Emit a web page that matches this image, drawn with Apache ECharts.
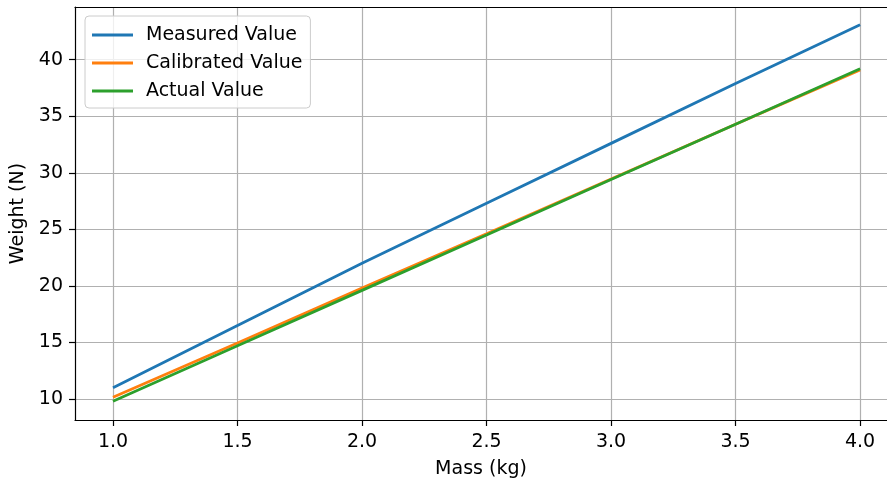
<!DOCTYPE html>
<html>
<head>
<meta charset="utf-8">
<script src="https://cdn.jsdelivr.net/npm/echarts@6/dist/echarts.min.js"></script>
<style>html,body{margin:0;padding:0;background:#fff;}#c{width:887px;height:484px;}</style>
</head>
<body>
<div id="c"></div>
<script>
var masses = [1.0, 1.5, 2.0, 2.5, 3.0, 3.5, 4.0];
var measured = [11.0, 16.5, 22.0, 27.3, 32.6, 37.9, 43.1];
var calibrated = [10.15, 14.95, 19.8, 24.6, 29.45, 34.3, 39.1];
var actual = [9.8, 14.7, 19.6, 24.5, 29.4, 34.3, 39.2];
var xTicks = [1.0, 1.5, 2.0, 2.5, 3.0, 3.5, 4.0];
var yTicks = [10, 15, 20, 25, 30, 35, 40];

function pairs(ys) { return masses.map(function (m, i) { return [m, ys[i]]; }); }
var font = 'DejaVu Sans';
var fs = 19;
var chart = echarts.init(document.getElementById('c'), null, {renderer: 'canvas'});
chart.setOption({
  animation: false,
  backgroundColor: '#fff',
  grid: {left: 75, top: 7, bottom: 62, right: 0, show: false},
  legend: {
    orient: 'vertical', left: 85, top: 16,
    padding: [8, 8, 6, 7],
    icon: 'rect',
    itemWidth: 41, itemHeight: 2.8, itemGap: 6,
    backgroundColor: 'rgba(255,255,255,0.8)', borderColor: '#cccccc', borderWidth: 1, borderRadius: 4,
    textStyle: {fontFamily: font, fontSize: fs, color: '#000', lineHeight: 22, padding: [0, 0, 0, 8]},
    data: ['Measured Value', 'Calibrated Value', 'Actual Value']
  },
  xAxis: [{
    type: 'value', min: 0.8474, max: 4.108,
    name: 'Mass (kg)', nameLocation: 'middle', nameGap: 40,
    nameTextStyle: {fontFamily: font, fontSize: fs, color: '#000'},
    axisLine: {show: true, onZero: false, lineStyle: {color: '#000', width: 1.2}},
    axisTick: {show: true, length: 6, inside: false, lineStyle: {color: '#000', width: 1.2}, customValues: xTicks},
    axisLabel: {fontFamily: font, fontSize: fs, color: '#000', margin: 13, customValues: xTicks, formatter: function (v) { return v.toFixed(1); }},
    splitLine: {show: true, lineStyle: {color: '#b0b0b0', width: 1.2}}
  }, {
    type: 'value', position: 'top', min: 0.8474, max: 4.108,
    axisLine: {show: true, onZero: false, lineStyle: {color: '#000', width: 1.2}},
    axisTick: {show: false}, axisLabel: {show: false}, splitLine: {show: false}
  }],
  yAxis: {
    type: 'value', min: 8.14, max: 44.66,
    name: 'Weight (N)', nameLocation: 'middle', nameGap: 46,
    nameTextStyle: {fontFamily: font, fontSize: fs, color: '#000'},
    axisLine: {show: true, onZero: false, lineStyle: {color: '#000', width: 1.2}},
    axisTick: {show: true, length: 6, inside: false, lineStyle: {color: '#000', width: 1.2}, customValues: yTicks},
    axisLabel: {fontFamily: font, fontSize: fs, color: '#000', margin: 12, customValues: yTicks},
    splitLine: {show: true, lineStyle: {color: '#b0b0b0', width: 1.2}}
  },
  series: [
    {name: 'Measured Value', type: 'line', data: pairs(measured), symbol: 'none', lineStyle: {color: '#1f77b4', width: 2.8}, itemStyle: {color: '#1f77b4'}},
    {name: 'Calibrated Value', type: 'line', data: pairs(calibrated), symbol: 'none', lineStyle: {color: '#ff7f0e', width: 2.8}, itemStyle: {color: '#ff7f0e'}},
    {name: 'Actual Value', type: 'line', data: pairs(actual), symbol: 'none', lineStyle: {color: '#2ca02c', width: 2.8}, itemStyle: {color: '#2ca02c'}}
  ]
});
</script>
</body>
</html>
